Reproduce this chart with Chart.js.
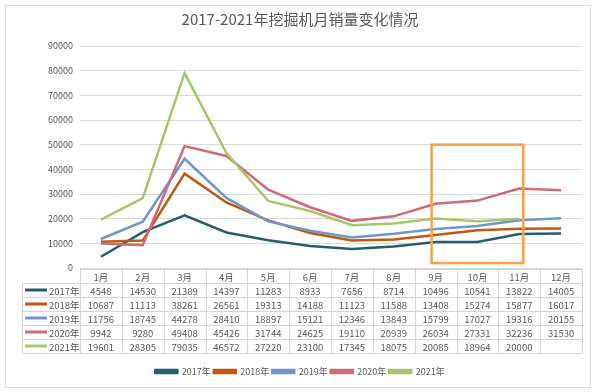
<!DOCTYPE html>
<html lang="zh-CN">
<head>
    <meta charset="UTF-8">
    <title>2017-2021年挖掘机月销量变化情况</title>
    <script src="https://cdn.jsdelivr.net/npm/chart.js"></script>
    <style>
        html, body { margin: 0; padding: 0; background: #fff; }
        .chart-container { position: relative; width: 600px; height: 392px; }
    </style>
</head>
<body>
    <div class="chart-container">
        <canvas id="vendasChart"></canvas>
    </div>

    <script>
        const meses = ['1月', '2月', '3月', '4月', '5月', '6月', '7月', '8月', '9月', '10月', '11月', '12月'];
        const anos = ['2017年', '2018年', '2019年', '2020年', '2021年'];
        const v2017 = [4548, 14530, 21389, 14397, 11283, 8933, 7656, 8714, 10496, 10541, 13822, 14005];
        const v2018 = [10687, 11113, 38261, 26561, 19313, 14188, 11123, 11588, 13408, 15274, 15877, 16017];
        const v2019 = [11756, 18745, 44278, 28410, 18897, 15121, 12346, 13843, 15799, 17027, 19316, 20155];
        const v2020 = [9942, 9280, 49408, 45426, 31744, 24625, 19110, 20939, 26034, 27331, 32236, 31530];
        const v2021 = [19601, 28305, 79035, 46572, 27220, 23100, 17345, 18075, 20085, 18964, 20000];
        const series = [v2017, v2018, v2019, v2020, v2021];

        const cores = ['#255e6c', '#c0580f', '#7096cd', '#cf6b78', '#a6c86c'];
        const fonte = '"Noto Sans CJK SC", "Noto Sans", sans-serif';

        // quadro laranja: de 9月 a 11月, em unidades do gráfico
        const destaque = { de: 8, ate: 10, min: 2000, max: 50000 };

        const fundoPlugin = {
            id: 'fundo',
            beforeDraw(chart) {
                const ctx = chart.ctx;
                ctx.save();
                ctx.fillStyle = '#fff';
                ctx.fillRect(0, 0, chart.width, chart.height);
                ctx.strokeStyle = '#d9d9d9';
                ctx.lineWidth = 1;
                ctx.strokeRect(5.5, 5.5, 585, 382);
                ctx.restore();
            }
        };

        const tabelaPlugin = {
            id: 'tabela',
            afterDraw(chart) {
                const ctx = chart.ctx;
                const xs = chart.scales.x;
                const ys = chart.scales.y;
                const area = chart.chartArea;
                const colW = xs.getPixelForValue(1) - xs.getPixelForValue(0);
                const esq = area.left;
                const dir = area.left + colW * meses.length;
                const topo = area.bottom + 1;
                const rowH = 14;
                const labelEsq = 22;
                const fundo = topo + rowH * (anos.length + 1);

                ctx.save();
                ctx.strokeStyle = '#d4d4d4';
                ctx.lineWidth = 1;
                ctx.beginPath();
                ctx.moveTo(esq, topo + 0.5);
                ctx.lineTo(dir, topo + 0.5);
                for (let i = 1; i <= anos.length + 1; i++) {
                    const y = Math.round(topo + rowH * i) + 0.5;
                    ctx.moveTo(labelEsq, y);
                    ctx.lineTo(dir, y);
                }
                for (let k = 0; k <= meses.length; k++) {
                    const x = Math.round(esq + colW * k) + 0.5;
                    ctx.moveTo(x, topo);
                    ctx.lineTo(x, fundo);
                }
                ctx.moveTo(labelEsq + 0.5, topo + rowH);
                ctx.lineTo(labelEsq + 0.5, fundo);
                ctx.stroke();

                ctx.font = '9.5px ' + fonte;
                ctx.fillStyle = '#595959';
                ctx.textAlign = 'center';
                ctx.textBaseline = 'middle';
                meses.forEach((m, k) => {
                    ctx.fillText(m, xs.getPixelForValue(k), topo + rowH / 2 + 1);
                });

                series.forEach((vals, i) => {
                    const y = topo + rowH * (i + 1) + rowH / 2 + 1;
                    ctx.textAlign = 'center';
                    vals.forEach((v, k) => {
                        ctx.fillText(String(v), xs.getPixelForValue(k), y);
                    });
                    // legenda da linha
                    ctx.strokeStyle = cores[i];
                    ctx.lineWidth = 3;
                    ctx.beginPath();
                    ctx.moveTo(labelEsq + 3, y - 1);
                    ctx.lineTo(labelEsq + 25, y - 1);
                    ctx.stroke();
                    ctx.textAlign = 'left';
                    ctx.fillText(anos[i], labelEsq + 27, y);
                });

                // quadro laranja
                const x1 = xs.getPixelForValue(destaque.de) - 4;
                const x2 = xs.getPixelForValue(destaque.ate) + 4;
                const y1 = ys.getPixelForValue(destaque.max);
                const y2 = ys.getPixelForValue(destaque.min);
                ctx.strokeStyle = '#f4a24c';
                ctx.lineWidth = 2.5;
                ctx.strokeRect(x1, y1, x2 - x1, y2 - y1);
                ctx.restore();
            }
        };

        const ctx = document.getElementById('vendasChart').getContext('2d');
        new Chart(ctx, {
            type: 'line',
            data: {
                labels: meses,
                datasets: anos.map((ano, i) => ({
                    label: ano,
                    data: series[i],
                    borderColor: cores[i],
                    backgroundColor: cores[i],
                    borderWidth: 2.5,
                    pointRadius: 0,
                    tension: 0,
                    order: anos.length - i
                }))
            },
            options: {
                responsive: true,
                maintainAspectRatio: false,
                animation: false,
                layout: {
                    padding: { left: 18, right: 18, top: 8, bottom: 6 }
                },
                plugins: {
                    title: {
                        display: true,
                        text: '2017-2021年挖掘机月销量变化情况',
                        color: '#595959',
                        font: { family: fonte, size: 15, weight: 'normal' },
                        padding: { top: 2, bottom: 18 }
                    },
                    legend: {
                        position: 'bottom',
                        labels: {
                            color: '#595959',
                            font: { family: fonte, size: 9 },
                            boxWidth: 22,
                            boxHeight: 3,
                            padding: 3,
                            sort: (a, b) => a.datasetIndex - b.datasetIndex
                        }
                    },
                    tooltip: { enabled: false }
                },
                scales: {
                    x: {
                        offset: true,
                        grid: { display: false },
                        border: { display: false },
                        ticks: { display: false },
                        afterFit: function(scale) { scale.height = 96; }
                    },
                    y: {
                        min: 0,
                        max: 90000,
                        ticks: {
                            stepSize: 10000,
                            color: '#595959',
                            font: { family: fonte, size: 9 },
                            padding: 7,
                            callback: v => String(v)
                        },
                        grid: { color: '#d9d9d9', drawTicks: false },
                        border: { display: false },
                        afterFit: function(scale) { scale.width = 62; }
                    }
                }
            },
            plugins: [fundoPlugin, tabelaPlugin]
        });
    </script>
</body>
</html>
